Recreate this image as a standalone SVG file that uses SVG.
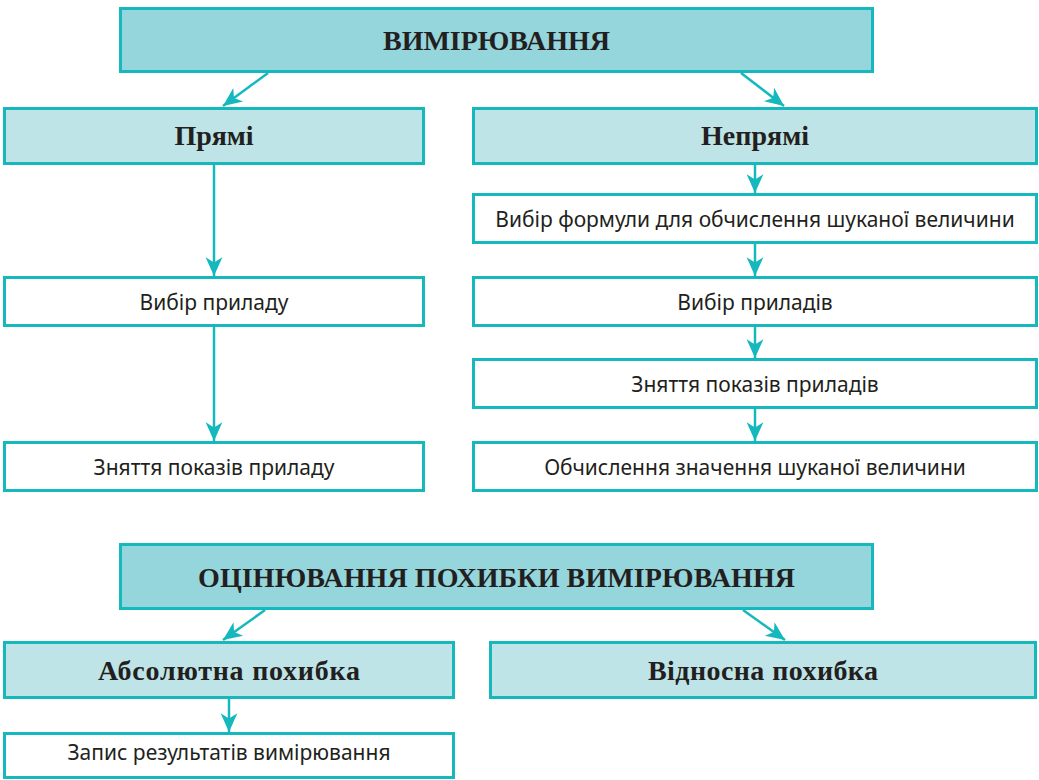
<svg xmlns="http://www.w3.org/2000/svg" width="1039" height="780" viewBox="0 0 1039 780">
<style>
.hd{fill:#95d5dc;stroke:#14b8bd;stroke-width:3}
.sub{fill:#bee4e7;stroke:#14b8bd;stroke-width:3}
.st{fill:#ffffff;stroke:#14b8bd;stroke-width:3}
.tb{font-family:"Liberation Serif",serif;font-weight:bold;font-size:28px;fill:#231f20;text-anchor:middle}
.ts{font-family:"Noto Sans","Open Sans",sans-serif;font-size:21px;fill:#231f20;text-anchor:middle}
.cn{stroke:#14b8bd;stroke-width:2.5;fill:none;marker-end:url(#ah)}
</style>
<defs>
<marker id="ah" markerUnits="userSpaceOnUse" markerWidth="22" markerHeight="22" viewBox="-19 -10 21 20" refX="0" refY="0" orient="auto">
<path d="M0,0 L-18,-8 L-13,0 L-18,8 Z" fill="#14b8bd"/>
</marker>
</defs>
<rect width="1039" height="780" fill="#ffffff"/>
<g id="connectors">
<line class="cn" x1="268" y1="73" x2="223" y2="106"/>
<line class="cn" x1="741" y1="73" x2="784" y2="106"/>
<line class="cn" x1="214" y1="165" x2="214" y2="276"/>
<line class="cn" x1="214" y1="327" x2="214" y2="441"/>
<line class="cn" x1="755" y1="165" x2="755" y2="193"/>
<line class="cn" x1="755" y1="244" x2="755" y2="276"/>
<line class="cn" x1="755" y1="327" x2="755" y2="358"/>
<line class="cn" x1="755" y1="409" x2="755" y2="441"/>
<line class="cn" x1="265" y1="610" x2="223" y2="640"/>
<line class="cn" x1="743" y1="610" x2="785" y2="640"/>
<line class="cn" x1="229" y1="699" x2="229" y2="732"/>
</g>
<g id="n-vymiryuvannya">
<rect class="hd" x="120.5" y="8.5" width="752" height="63"/>
<text class="tb" x="496.5" y="50" textLength="227" lengthAdjust="spacing">ВИМІРЮВАННЯ</text>
</g>
<g id="n-pryami">
<rect class="sub" x="4.5" y="108.5" width="419" height="55"/>
<text class="tb" x="214" y="145" textLength="79" lengthAdjust="spacing">Прямі</text>
</g>
<g id="n-nepryami">
<rect class="sub" x="473.5" y="108.5" width="563" height="55"/>
<text class="tb" x="755" y="145" textLength="108" lengthAdjust="spacing">Непрямі</text>
</g>
<g id="n-vybir-pryladu">
<rect class="st" x="4.5" y="277.5" width="419" height="48"/>
<text class="ts" x="214" y="310">Вибір приладу</text>
</g>
<g id="n-znyattya-pryladu">
<rect class="st" x="4.5" y="442.5" width="419" height="48"/>
<text class="ts" x="214" y="475">Зняття показів приладу</text>
</g>
<g id="n-formula">
<rect class="st" x="473.5" y="194.5" width="563" height="48"/>
<text class="ts" x="755" y="227">Вибір формули для обчислення шуканої величини</text>
</g>
<g id="n-vybir-pryladiv">
<rect class="st" x="473.5" y="277.5" width="563" height="48"/>
<text class="ts" x="755" y="310">Вибір приладів</text>
</g>
<g id="n-znyattya-pryladiv">
<rect class="st" x="473.5" y="359.5" width="563" height="48"/>
<text class="ts" x="755" y="392">Зняття показів приладів</text>
</g>
<g id="n-obchyslennya">
<rect class="st" x="473.5" y="442.5" width="563" height="48"/>
<text class="ts" x="755" y="475">Обчислення значення шуканої величини</text>
</g>
<g id="n-otsinyuvannya">
<rect class="hd" x="120.5" y="544.5" width="752" height="64"/>
<text class="tb" x="496.5" y="587" textLength="597" lengthAdjust="spacing">ОЦІНЮВАННЯ ПОХИБКИ ВИМІРЮВАННЯ</text>
</g>
<g id="n-absolyutna">
<rect class="sub" x="4.5" y="642.5" width="449" height="55"/>
<text class="tb" x="229" y="680" textLength="262" lengthAdjust="spacing">Абсолютна похибка</text>
</g>
<g id="n-vidnosna">
<rect class="sub" x="490.5" y="642.5" width="545" height="55"/>
<text class="tb" x="763" y="680" textLength="230" lengthAdjust="spacing">Відносна похибка</text>
</g>
<g id="n-zapys">
<rect class="st" x="4.5" y="733.5" width="449" height="44"/>
<text class="ts" x="229" y="760">Запис результатів вимірювання</text>
</g>
</svg>
